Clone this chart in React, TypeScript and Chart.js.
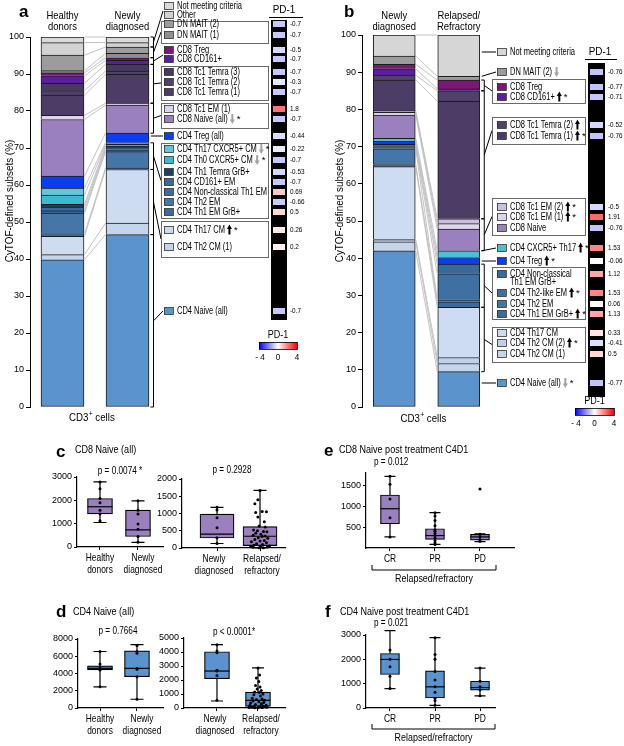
import React, { useEffect, useRef } from 'react';
import { Chart, registerables } from 'chart.js';

Chart.register(...registerables);

const FF = "'Liberation Sans', Arial, Helvetica, sans-serif";
Chart.defaults.font.family = FF;
Chart.defaults.color = '#000';

// ===== Panel a: healthy donors vs newly diagnosed (% of CD3+ cells, stacked bottom -> top) =====
const aBars = [['Healthy', 'donors'], ['Newly', 'diagnosed']];
const aSubsets = [
  'CD4 Naive (all)', 'CD4 Th2 CM (1)', 'CD4 Th17 CM', 'CD4 Th1 EM GrB+', 'CD4 Th2 EM',
  'CD4 Non-classical Th1 EM', 'CD4 CD161+ EM', 'CD4 Th1 Temra GrB+', 'CD4 Th0 CXCR5+ CM',
  'CD4 Th17 CXCR5+ CM', 'CD4 Treg (all)', 'CD8 Naive (all)', 'CD8 Tc1 EM (1)',
  'CD8 Tc1 Temra (1)', 'CD8 Tc1 Temra (2)', 'CD8 Tc1 Temra (3)', 'CD8 CD161+', 'CD8 Treg',
  'DN MAIT (1)', 'DN MAIT (2)', 'Other', 'Not meeting criteria',
];
const aHealthy = [39.8, 1.4, 4.9, 0.8, 5.5, 0.6, 1.0, 0.8, 2.5, 1.9, 3.2, 15.3, 1.1, 5.5, 1.2, 2.0, 2.0, 0.8, 0.6, 4.2, 3.4, 1.5];
const aNewly = [46.6, 3.1, 14.5, 0.4, 4.4, 0.5, 0.6, 0.4, 0.5, 0.4, 2.6, 7.6, 0.5, 7.8, 0.9, 1.8, 1.1, 0.7, 1.2, 1.7, 1.2, 1.5];
const aMarks = ['', '', 'up*', '', '', '', '', '', 'down*', 'down*', '', 'down*', '', '', '', '', '', '', '', '', '', ''];
const aPd1 = [-0.7, 0.2, 0.26, 0.5, -0.66, 0.69, -0.7, -0.53, -0.7, -0.22, -0.44, -0.7, 1.8, -0.7, -0.3, -0.7, -0.7, -0.5, -0.7, -0.7, null, null];

// ===== Panel b: newly diagnosed vs relapsed/refractory =====
const bBars = [['Newly', 'diagnosed'], ['Relapsed/', 'Refractory']];
const bSubsets = [
  'CD4 Naive (all)', 'CD4 Th2 CM (1)', 'CD4 Th2 CM (2)', 'CD4 Th17 CM', 'CD4 Th1 EM GrB+',
  'CD4 Th2 EM', 'CD4 Th2-like EM', 'CD4 Non-classical\nTh1 EM GrB+', 'CD4 Treg', 'CD4 CXCR5+ Th17',
  'CD8 Naive', 'CD8 Tc1 EM (1)', 'CD8 Tc1 EM (2)', 'CD8 Tc1 Temra (1)', 'CD8 Tc1 Temra (2)',
  'CD8 CD161+', 'CD8 Treg', 'DN MAIT (2)', 'Not meeting criteria',
];
const bNewly = [42.0, 2.4, 0.6, 19.6, 0.6, 4.2, 0.6, 0.6, 0.8, 0.8, 6.3, 0.7, 0.4, 8.3, 1.3, 1.7, 1.2, 2.2, 5.7];
const bRelapsed = [9.5, 2.2, 1.6, 13.5, 1.5, 0.5, 7.0, 2.6, 1.8, 1.8, 5.8, 1.5, 1.3, 31.6, 2.8, 0.5, 2.4, 1.0, 11.1];
const bMarks = ['down*', '', 'up*', '', 'up*', '', 'up*', '', 'up*', 'up*', '', 'up*', 'up*', 'up*', 'up', 'up*', '', 'down', ''];
const bPd1 = [-0.77, 0.5, -0.41, 0.33, 1.13, 0.06, 1.53, 1.12, -0.06, 1.53, -0.76, 1.91, -0.5, -0.76, -0.52, -0.71, -0.77, -0.76, null];

// ===== Panels c-f: box plots (cells) =====
const cLeftGroups = [['Healthy', 'donors'], ['Newly', 'diagnosed']];
const cLeftMin = [1050, 200];
const cLeftQ1 = [1415, 450];
const cLeftMed = [1725, 735];
const cLeftQ3 = [2080, 1585];
const cLeftMax = [2790, 1980];
const cLeftPts = [[2790, 2500, 2080, 1900, 1580, 1415, 1130], [1980, 1580, 1410, 990, 760, 450, 200]];

const cRightGroups = [['Newly', 'diagnosed'], ['Relapsed/', 'refractory']];
const cRightMin = [130, 0];
const cRightQ1 = [290, 70];
const cRightMed = [400, 340];
const cRightQ3 = [980, 620];
const cRightMax = [1180, 1670];
const cRightPts = [
  [1180, 1100, 880, 590, 300, 130],
  [1670, 1400, 1280, 1060, 1050, 1030, 900, 760, 640, 610, 520, 500, 480, 470, 430, 400, 370, 350,
    330, 300, 280, 250, 220, 200, 180, 150, 120, 100, 80, 60, 50, 40, 30, 20, 10, 5],
];
const cRightJitter = [
  [0, 0, 0, 0, 0, 0],
  [0, -0.05, -0.12, 0.05, 0.15, -0.1, -0.05, 0.1, -0.02, 0.12, -0.15, -0.06, 0.08, 0.16, -0.1, 0.02, -0.16, 0.12,
    0.05, -0.04, 0.18, -0.12, 0.1, 0.0, -0.2, 0.15, -0.08, 0.06, -0.14, 0.22, 0.02, -0.22, 0.17, -0.17, 0.08, -0.02],
];

const dLeftGroups = [['Healthy', 'donors'], ['Newly', 'diagnosed']];
const dLeftMin = [2460, 1015];
const dLeftQ1 = [4410, 3630];
const dLeftMed = [4600, 4600];
const dLeftQ3 = [4880, 6630];
const dLeftMax = [6550, 7340];
const dLeftPts = [[6550, 5100, 4650, 4550, 4450, 4400, 2460], [7260, 6550, 6360, 4600, 4490, 3630, 1015]];

const dRightGroups = [['Newly', 'diagnosed'], ['Relapsed/', 'refractory']];
const dRightMin = [500, 0];
const dRightQ1 = [2095, 120];
const dRightMed = [2640, 550];
const dRightQ3 = [4020, 1140];
const dRightMax = [4520, 2860];
const dRightPts = [
  [4520, 4070, 3950, 2690, 2640, 2330, 550],
  [2860, 2350, 2150, 1900, 1600, 1500, 1350, 1250, 1150, 1100, 1000, 950, 850, 700, 650, 600, 550, 500,
    450, 400, 350, 300, 250, 200, 180, 150, 120, 100, 80, 60, 50, 40, 30, 20, 10],
];
const dRightJitter = [
  [0, 0, 0, 0, 0, 0, 0],
  [0, 0.04, -0.04, 0.02, -0.06, 0.05, -0.02, 0.08, -0.08, 0.03, 0.12, -0.1, 0.06, -0.14, 0.1, -0.04, 0.16, -0.12,
    0.02, 0.14, -0.18, 0.08, -0.06, 0.2, -0.2, 0.12, -0.1, 0.04, 0.18, -0.16, 0.22, -0.22, 0.1, -0.08, 0.0],
];

const eGroups = [['CR'], ['PR'], ['PD']];
const eMin = [265, 86, 150];
const eQ1 = [578, 203, 187];
const eMed = [937, 297, 265];
const eQ3 = [1265, 460, 328];
const eMax = [1710, 844, 340];
const ePts = [
  [1710, 1520, 1170, 720, 265],
  [844, 766, 656, 531, 438, 398, 344, 297, 242, 180, 125, 86],
  [1406, 328, 270, 200, 160],
];

const fGroups = [['CR'], ['PR'], ['PD']];
const fMin = [800, 110, 500];
const fQ1 = [1375, 410, 730];
const fMed = [1995, 870, 840];
const fQ3 = [2240, 1530, 1100];
const fMax = [3180, 2890, 1640];
const fPts = [
  [3180, 2380, 2000, 1700, 1300, 800],
  [2890, 2200, 2000, 1500, 1150, 870, 650, 400, 300, 110],
  [1640, 1100, 870, 750, 500],
];

// ===== styles =====
const aColors = ['#5b93cc', '#c3d6ec', '#cddcf0', '#3b6a9b', '#4676a8', '#3d6d9e', '#3a699b', '#1f3e64', '#3dbad0',
  '#62c8d8', '#0b3df2', '#9a80bf', '#ddd5eb', '#4b3d66', '#504169', '#473962', '#5a1f9f', '#7d1678', '#8e8e8e',
  '#9c9c9c', '#d2d2d2', '#dadada'];
const bColors = ['#5b93cc', '#c3d6ec', '#bfd2ea', '#cddcf0', '#3b6a9b', '#4676a8', '#3f70a2', '#3a699b', '#0b3df2',
  '#4cc0d2', '#9a80bf', '#ddd5eb', '#cbbfe0', '#4b3d66', '#504169', '#5a1f9f', '#7d1678', '#9c9c9c', '#d6d6d6'];
const PURPLE = '#9b80c0';
const BLUE = '#5b93cf';

// ===== drawing helpers =====
function txt(ctx: any, s: string, x: number, y: number, o: any = {}) {
  const size = o.size ?? 10;
  const sx = o.sx ?? 1;
  ctx.save();
  ctx.font = `${o.bold ? 'bold ' : ''}${size}px ${FF}`;
  ctx.fillStyle = o.color ?? '#000';
  ctx.textBaseline = 'middle';
  ctx.textAlign = 'left';
  const w = ctx.measureText(s).width * sx;
  let x0 = x;
  if (o.align === 'center') x0 = x - w / 2;
  else if (o.align === 'right') x0 = x - w;
  ctx.translate(x0, y);
  ctx.scale(sx, 1);
  ctx.fillText(s, 0, 0);
  ctx.restore();
  return w;
}

function upArrow(ctx: any, x: number, y: number) {
  ctx.save();
  ctx.fillStyle = '#000';
  ctx.beginPath();
  ctx.moveTo(x, y - 1);
  ctx.lineTo(x + 2.5, y - 5.5);
  ctx.lineTo(x + 5, y - 1);
  ctx.closePath();
  ctx.fill();
  ctx.fillRect(x + 1.5, y - 1.5, 2, 6);
  ctx.restore();
}

function downArrow(ctx: any, x: number, y: number) {
  ctx.save();
  ctx.fillStyle = '#a3a3a3';
  ctx.beginPath();
  ctx.moveTo(x, y + 0.5);
  ctx.lineTo(x + 2.5, y + 5);
  ctx.lineTo(x + 5, y + 0.5);
  ctx.closePath();
  ctx.fill();
  ctx.fillRect(x + 1.5, y - 5, 2, 6);
  ctx.restore();
}

function pdColor(v: number) {
  const t = Math.min(1, (Math.abs(v) / 4) * 1.25);
  const c = Math.round(255 * (1 - t));
  return v < 0 ? `rgb(${c},${c},255)` : `rgb(255,${c},${c})`;
}

function drawStack(chart: any, s: any) {
  const ctx = chart.ctx;
  const ys = chart.scales.y;
  const meta = chart.getDatasetMeta(0);
  const e1 = meta.data[0];
  const e2 = meta.data[1];
  const x1R = e1.x + e1.width / 2;
  const x2L = e2.x - e2.width / 2;
  const x2R = e2.x + e2.width / 2;
  const c1: number[] = [];
  const c2: number[] = [];
  let t1 = 0;
  let t2 = 0;
  s.v1.forEach((v: number, i: number) => { t1 += v; t2 += s.v2[i]; c1.push(t1); c2.push(t2); });

  ctx.save();
  // category labels above the bars
  [e1, e2].forEach((el: any, i: number) => {
    s.labels[i].forEach((ln: string, j: number) => {
      txt(ctx, ln, el.x, s.labelY[j], { size: 11, align: 'center', sx: 0.86 });
    });
  });
  // connectors between the two bars
  ctx.strokeStyle = '#bcbcbc';
  ctx.lineWidth = 0.9;
  for (let k = 0; k < c1.length; k++) {
    ctx.beginPath();
    ctx.moveTo(x1R + 0.5, ys.getPixelForValue(c1[k]));
    ctx.lineTo(x2L - 0.5, ys.getPixelForValue(c2[k]));
    ctx.stroke();
  }
  // brackets + frames
  s.groups.forEach((g: any) => {
    const top = ys.getPixelForValue(c2[g.to]);
    const bot = ys.getPixelForValue(g.from === 0 ? 0 : c2[g.from - 1]);
    const tx = g.frame ? s.frameX[0] : s.swX - 1;
    const ty = g.frame ? (g.frame[0] + g.frame[1]) / 2 : g.y;
    ctx.strokeStyle = '#000';
    ctx.lineWidth = 1;
    ctx.beginPath();
    if (g.type === 'bracket') {
      const bx = x2R + 4.5;
      ctx.moveTo(x2R + 1.5, top);
      ctx.lineTo(bx, top);
      ctx.lineTo(bx, bot);
      ctx.lineTo(x2R + 1.5, bot);
      ctx.moveTo(bx, (top + bot) / 2);
      ctx.lineTo(tx, ty);
    } else {
      const sy = Math.min(Math.max(ty, top), bot);
      ctx.moveTo(x2R + 2, sy);
      ctx.lineTo(tx, ty);
    }
    ctx.stroke();
    if (g.frame) {
      ctx.strokeStyle = '#6a6a6a';
      ctx.strokeRect(s.frameX[0] + 0.5, g.frame[0] + 0.5, s.frameX[1] - s.frameX[0], g.frame[1] - g.frame[0]);
    }
  });
  // legend rows
  s.subsets.forEach((name: string, i: number) => {
    const y = s.rowY[i];
    ctx.fillStyle = s.colors[i];
    ctx.fillRect(s.swX, y - 3.5, 9, 7);
    ctx.strokeStyle = '#333';
    ctx.lineWidth = 0.8;
    ctx.strokeRect(s.swX + 0.5, y - 3.5, 9, 7);
    const lines = name.split('\n');
    let w = 0;
    lines.forEach((ln, j) => {
      const ww = txt(ctx, ln, s.swX + 13, y + j * 8.5, { size: 10, sx: 0.75 });
      if (j === lines.length - 1) w = ww;
    });
    let x = s.swX + 13 + w + 2;
    const ly = y + (lines.length - 1) * 8.5;
    const m = s.marks[i];
    if (m.startsWith('up')) { upArrow(ctx, x, ly); x += 6; }
    else if (m.startsWith('down')) { downArrow(ctx, x, ly); x += 6; }
    if (m.endsWith('*')) txt(ctx, '*', x + 1, ly, { size: 9.5 });
  });
  // PD-1 strip
  const st = s.strip;
  ctx.fillStyle = '#000';
  ctx.fillRect(st.x, st.top, st.w, st.bottom - st.top);
  s.pd.forEach((v: number | null, i: number) => {
    if (v == null) return;
    const y = s.rowY[i];
    ctx.fillStyle = pdColor(v);
    ctx.fillRect(st.cellX, y - 3, st.cellW, 6);
    txt(ctx, String(v), st.valX, y, { size: 7.5, sx: 0.85 });
  });
  txt(ctx, 'PD-1', st.hx, st.hy, { size: 11, align: 'center', sx: 0.9 });
  ctx.strokeStyle = '#000';
  ctx.lineWidth = 1;
  ctx.beginPath();
  ctx.moveTo(st.ul[0], st.uy + 0.5);
  ctx.lineTo(st.ul[1], st.uy + 0.5);
  ctx.stroke();
  // colour bar
  const grad = ctx.createLinearGradient(st.cbx, 0, st.cbx + st.cbw, 0);
  grad.addColorStop(0, '#0000ff');
  grad.addColorStop(0.5, '#ffffff');
  grad.addColorStop(1, '#ff0000');
  ctx.fillStyle = grad;
  ctx.fillRect(st.cbx, st.cby, st.cbw, st.cbh);
  ctx.lineWidth = 0.8;
  ctx.strokeRect(st.cbx + 0.5, st.cby + 0.5, st.cbw, st.cbh);
  txt(ctx, 'PD-1', st.cbx + st.cbw / 2, st.cby - 7, { size: 10, align: 'center', sx: 0.9 });
  txt(ctx, '- 4', st.cbx + 1, st.cby + st.cbh + 9, { size: 9, align: 'center', sx: 0.9 });
  txt(ctx, '0', st.cbx + st.cbw / 2, st.cby + st.cbh + 9, { size: 9, align: 'center', sx: 0.9 });
  txt(ctx, '4', st.cbx + st.cbw, st.cby + st.cbh + 9, { size: 9, align: 'center', sx: 0.9 });
  // y title
  ctx.save();
  ctx.translate(s.yTitle[0], s.yTitle[1]);
  ctx.rotate(-Math.PI / 2);
  txt(ctx, 'CyTOF-defined subsets (%)', 0, 0, { size: 11, align: 'center', sx: 0.9 });
  ctx.restore();
  // panel letter
  txt(ctx, s.letter[0], s.letter[1], s.letter[2], { size: 17, bold: true });
  // CD3+ cells
  const cx = (e1.x + e2.x) / 2 - 4;
  const cy = s.cd3Y;
  const w1 = txt(ctx, 'CD3', cx - 22, cy, { size: 11, sx: 0.88 });
  txt(ctx, '+', cx - 22 + w1 + 0.5, cy - 4, { size: 7 });
  txt(ctx, 'cells', cx - 22 + w1 + 7, cy, { size: 11, sx: 0.88 });
  ctx.restore();
}

function makeStack(s: any) {
  return {
    type: 'bar',
    data: {
      labels: s.labels.map((l: string[]) => l.join(' ')),
      datasets: s.subsets.map((name: string, i: number) => ({
        label: name,
        data: [s.v1[i], s.v2[i]],
        backgroundColor: s.colors[i],
        borderColor: '#1c1c1c',
        borderWidth: { top: 1, left: 1, right: 1, bottom: i === 0 ? 1 : 0 },
        borderSkipped: false,
        barThickness: s.barW,
        stack: 'cd3',
      })),
    },
    options: {
      responsive: false,
      animation: false,
      layout: { padding: s.pad },
      plugins: { legend: { display: false }, tooltip: { enabled: false }, title: { display: false } },
      scales: {
        x: {
          position: 'top',
          stacked: true,
          grid: { display: false, drawTicks: false },
          border: { display: false },
          ticks: { display: false },
          afterFit: (sc: any) => { sc.height = s.xH; },
        },
        y: {
          stacked: true,
          min: 0,
          max: 100,
          ticks: { stepSize: 10, color: '#000', font: { size: 9, family: FF }, padding: 2, callback: (v: any) => String(v) },
          grid: { drawOnChartArea: false, drawTicks: true, tickLength: 4, color: '#000', lineWidth: 1 },
          border: { display: true, color: '#000', width: 1 },
          afterFit: (sc: any) => { sc.width = s.yW; },
        },
      },
    },
    plugins: [{ id: 'stackDecor', afterDatasetsDraw: (c: any) => drawStack(c, s) }],
  };
}

const stackA = {
  labels: aBars, subsets: aSubsets, v1: aHealthy, v2: aNewly, colors: aColors, marks: aMarks, pd: aPd1,
  rowY: [311, 247, 230, 212, 202, 192, 182, 172, 160, 149, 136, 119, 109, 92, 82, 72, 59, 50, 35, 24, 15, 6],
  groups: [
    { from: 0, to: 0, type: 'bracket', y: 311 },
    { from: 1, to: 2, type: 'bracket', frame: [221, 257] },
    { from: 3, to: 9, type: 'bracket', frame: [143, 218] },
    { from: 10, to: 10, type: 'line', y: 136 },
    { from: 11, to: 12, type: 'bracket', frame: [103, 128] },
    { from: 13, to: 15, type: 'bracket', frame: [66, 100] },
    { from: 16, to: 17, type: 'bracket', y: 55 },
    { from: 18, to: 19, type: 'bracket', frame: [21, 43] },
    { from: 20, to: 21, type: 'bracket', y: 11 },
  ],
  barW: 43, pad: { left: 0, right: 152, top: 0, bottom: 23 }, xH: 37, yW: 30,
  frameX: [161, 268], swX: 164, labelY: [16, 27],
  strip: { x: 271, w: 16, top: 20, bottom: 320, cellX: 273, cellW: 12, valX: 290, hx: 284, hy: 10, ul: [269, 303], uy: 17,
    cbx: 259, cby: 342, cbw: 38, cbh: 7 },
  yTitle: [10, 201], letter: ['a', 19, 12], cd3Y: 418,
};

const stackB = {
  labels: bBars, subsets: bSubsets, v1: bNewly, v2: bRelapsed, colors: bColors, marks: bMarks, pd: bPd1,
  rowY: [383, 354, 343, 333, 314, 304, 293, 274, 261, 248, 228, 217, 207, 136, 125, 97, 87, 72, 52],
  groups: [
    { from: 0, to: 0, type: 'line', y: 383 },
    { from: 1, to: 3, type: 'bracket', frame: [327, 362] },
    { from: 4, to: 7, type: 'bracket', frame: [267, 319] },
    { from: 8, to: 8, type: 'line', y: 261 },
    { from: 9, to: 9, type: 'line', y: 248 },
    { from: 10, to: 12, type: 'bracket', frame: [198, 235] },
    { from: 13, to: 14, type: 'bracket', frame: [117, 144] },
    { from: 15, to: 16, type: 'bracket', frame: [79, 103] },
    { from: 17, to: 17, type: 'line', y: 72 },
    { from: 18, to: 18, type: 'line', y: 52 },
  ],
  barW: 42, pad: { left: 20, right: 133, top: 0, bottom: 23 }, xH: 35, yW: 30,
  frameX: [180, 273], swX: 185, labelY: [16, 27],
  strip: { x: 276, w: 17, top: 63, bottom: 397, cellX: 278, cellW: 13, valX: 296, hx: 288, hy: 52, ul: [273, 305], uy: 59,
    cbx: 263, cby: 408, cbw: 39, cbh: 7 },
  yTitle: [28, 201], letter: ['b', 32, 12], cd3Y: 419,
};

const YW = 32;
const XH = 32;

function drawBox(chart: any, b: any, before: boolean) {
  const ctx = chart.ctx;
  const xs = chart.scales.x;
  const ys = chart.scales.y;
  ctx.save();
  ctx.strokeStyle = '#000';
  ctx.lineWidth = 1.2;
  if (before) {
    b.groups.forEach((_: any, i: number) => {
      const x = xs.getPixelForValue(i);
      const yMax = ys.getPixelForValue(b.max[i]);
      const yQ3 = ys.getPixelForValue(b.q3[i]);
      const yQ1 = ys.getPixelForValue(b.q1[i]);
      const yMin = ys.getPixelForValue(b.min[i]);
      ctx.beginPath();
      ctx.moveTo(x, yMax); ctx.lineTo(x, yQ3);
      ctx.moveTo(x, yQ1); ctx.lineTo(x, yMin);
      ctx.moveTo(x - b.capW / 2, yMax); ctx.lineTo(x + b.capW / 2, yMax);
      ctx.moveTo(x - b.capW / 2, yMin); ctx.lineTo(x + b.capW / 2, yMin);
      ctx.stroke();
    });
  } else {
    b.groups.forEach((lab: string[], i: number) => {
      const x = xs.getPixelForValue(i);
      const y = ys.getPixelForValue(b.med[i]);
      ctx.beginPath();
      ctx.moveTo(x - b.boxW / 2, y); ctx.lineTo(x + b.boxW / 2, y);
      ctx.stroke();
      const shift = lab.length > 1 ? (b.labShift ? b.labShift[i] : 0) : 0;
      lab.forEach((ln: string, j: number) => {
        txt(ctx, ln, x + shift, chart.chartArea.bottom + 11 + j * 12, { size: 10.5, align: 'center', sx: 0.8 });
      });
    });
    (b.texts || []).forEach((t: any) => {
      txt(ctx, t.t, t.x - b.cx, t.y - b.cy, { size: t.size ?? 10, bold: t.bold, align: t.align, sx: t.sx ?? (t.bold ? 1 : 0.82) });
    });
    if (b.bracket) {
      const br = b.bracket;
      ctx.lineWidth = 1;
      ctx.beginPath();
      ctx.moveTo(br.x1 - b.cx, br.y1 - b.cy);
      ctx.lineTo(br.x1 - b.cx, br.y2 - b.cy);
      ctx.lineTo(br.x2 - b.cx, br.y2 - b.cy);
      ctx.lineTo(br.x2 - b.cx, br.y1 - b.cy);
      ctx.stroke();
      txt(ctx, 'Relapsed/refractory', (br.x1 + br.x2) / 2 - b.cx, br.ly - b.cy, { size: 10.5, align: 'center', sx: 0.85 });
    }
  }
  ctx.restore();
}

function makeBox(b: any) {
  const pad = {
    left: b.area.l - b.cx - YW,
    right: b.cx + b.cw - b.area.r,
    top: b.area.t - b.cy,
    bottom: b.cy + b.ch - b.area.b - XH,
  };
  const pts: any[] = [];
  b.pts.forEach((arr: number[], i: number) =>
    arr.forEach((v, j) => pts.push({ x: i + ((b.jit && b.jit[i] && b.jit[i][j]) || 0), y: v })));
  return {
    type: 'bar',
    data: {
      datasets: [
        { type: 'scatter', data: pts, pointRadius: 1.5, backgroundColor: '#000', borderWidth: 0, clip: false, order: 0 },
        {
          type: 'bar',
          data: b.groups.map((_: any, i: number) => ({ x: i, y: [b.q1[i], b.q3[i]] })),
          backgroundColor: b.color, borderColor: '#000', borderWidth: 1.2, borderSkipped: false,
          barThickness: b.boxW, clip: false, order: 1,
        },
      ],
    },
    options: {
      responsive: false,
      animation: false,
      layout: { padding: pad },
      plugins: { legend: { display: false }, tooltip: { enabled: false } },
      scales: {
        x: {
          type: 'linear', min: b.xMin, max: b.xMax, offset: false,
          afterBuildTicks: (sc: any) => { sc.ticks = b.groups.map((_: any, i: number) => ({ value: i })); },
          ticks: { display: false },
          grid: { drawOnChartArea: false, tickLength: 3, color: '#000', offset: false },
          border: { color: '#000', width: 1.2 },
          afterFit: (sc: any) => { sc.height = XH; },
        },
        y: {
          min: b.yMin, max: b.yMax,
          afterBuildTicks: (sc: any) => { sc.ticks = b.yTicks.map((v: number) => ({ value: v })); },
          ticks: { font: { size: 9, family: FF }, color: '#000', padding: 2, callback: (v: any) => String(v) },
          grid: { drawOnChartArea: false, tickLength: 3, color: '#000' },
          border: { color: '#000', width: 1.2 },
          afterFit: (sc: any) => { sc.width = YW; },
        },
      },
    },
    plugins: [{
      id: 'boxDecor',
      beforeDatasetsDraw: (c: any) => drawBox(c, b, true),
      afterDatasetsDraw: (c: any) => drawBox(c, b, false),
    }],
  };
}

const boxes = [
  {
    cx: 0, cy: 440, cw: 170, ch: 150, area: { l: 77, r: 163, t: 477, b: 547 },
    groups: cLeftGroups, min: cLeftMin, q1: cLeftQ1, med: cLeftMed, q3: cLeftQ3, max: cLeftMax, pts: cLeftPts,
    labShift: [0, 5],
    color: PURPLE, boxW: 25, capW: 13, xMin: -0.605, xMax: 1.658, yMin: 0, yMax: 3000, yTicks: [0, 1000, 2000, 3000],
    texts: [
      { t: 'c', x: 56, y: 452, size: 17, bold: true },
      { t: 'CD8 Naive (all)', x: 75, y: 450, size: 11 },
      { t: 'p = 0.0074 *', x: 120, y: 471, align: 'center' },
    ],
  },
  {
    cx: 140, cy: 440, cw: 160, ch: 150, area: { l: 182, r: 285, t: 479, b: 548 },
    groups: cRightGroups, min: cRightMin, q1: cRightQ1, med: cRightMed, q3: cRightQ3, max: cRightMax, pts: cRightPts,
    jit: cRightJitter, labShift: [-3, 2],
    color: PURPLE, boxW: 34, capW: 13, xMin: -0.814, xMax: 1.581, yMin: 0, yMax: 2000, yTicks: [0, 500, 1000, 1500, 2000],
    texts: [{ t: 'p = 0.2928', x: 232, y: 470, align: 'center' }],
  },
  {
    cx: 0, cy: 600, cw: 170, ch: 146, area: { l: 78, r: 163, t: 639, b: 708 },
    groups: dLeftGroups, min: dLeftMin, q1: dLeftQ1, med: dLeftMed, q3: dLeftQ3, max: dLeftMax, pts: dLeftPts,
    labShift: [0, 5],
    color: BLUE, boxW: 25, capW: 13, xMin: -0.595, xMax: 1.703, yMin: 0, yMax: 8000, yTicks: [0, 2000, 4000, 6000, 8000],
    texts: [
      { t: 'd', x: 56, y: 612, size: 17, bold: true },
      { t: 'CD4 Naive (all)', x: 73, y: 612, size: 11 },
      { t: 'p = 0.7664', x: 118, y: 631, align: 'center' },
    ],
  },
  {
    cx: 140, cy: 600, cw: 160, ch: 146, area: { l: 184, r: 285, t: 638, b: 708 },
    groups: dRightGroups, min: dRightMin, q1: dRightQ1, med: dRightMed, q3: dRightQ3, max: dRightMax, pts: dRightPts,
    jit: dRightJitter, labShift: [-2, 3],
    color: BLUE, boxW: 25, capW: 12, xMin: -0.805, xMax: 1.659, yMin: 0, yMax: 5000, yTicks: [0, 1000, 2000, 3000, 4000, 5000],
    texts: [{ t: 'p < 0.0001*', x: 234, y: 632, align: 'center' }],
  },
  {
    cx: 312, cy: 440, cw: 248, ch: 150, area: { l: 366, r: 514, t: 473, b: 548 },
    groups: eGroups, min: eMin, q1: eQ1, med: eMed, q3: eQ3, max: eMax, pts: ePts,
    color: PURPLE, boxW: 19, capW: 11, xMin: -0.533, xMax: 2.756, yMin: 0, yMax: 1790, yTicks: [500, 1000, 1500],
    texts: [
      { t: 'e', x: 324, y: 451, size: 17, bold: true },
      { t: 'CD8 Naive post treatment C4D1', x: 339, y: 450, size: 11 },
      { t: 'p = 0.012', x: 374, y: 462 },
    ],
    bracket: { x1: 372, x2: 496, y1: 565, y2: 570, ly: 579 },
  },
  {
    cx: 312, cy: 600, cw: 248, ch: 146, area: { l: 366, r: 495, t: 635, b: 708 },
    groups: fGroups, min: fMin, q1: fQ1, med: fMed, q3: fQ3, max: fMax, pts: fPts,
    color: BLUE, boxW: 19, capW: 11, xMin: -0.533, xMax: 2.333, yMin: 0, yMax: 3000, yTicks: [0, 1000, 2000, 3000],
    texts: [
      { t: 'f', x: 325, y: 612, size: 17, bold: true },
      { t: 'CD4 Naive post treatment C4D1', x: 340, y: 612, size: 11 },
      { t: 'p = 0.021', x: 374, y: 623 },
    ],
    bracket: { x1: 372, x2: 495, y1: 724, y2: 729, ly: 738 },
  },
];

function ChartCanvas({ x, y, w, h, make }: any) {
  const ref = useRef<HTMLCanvasElement>(null);
  useEffect(() => {
    const chart = new Chart(ref.current as any, make());
    return () => chart.destroy();
  }, []);
  return (
    <canvas ref={ref} width={w} height={h}
      style={{ position: 'absolute', left: x, top: y, width: w, height: h }} />
  );
}

export default function App() {
  return (
    <div style={{ position: 'absolute', left: 0, top: 0, width: 624, height: 746, background: '#fff', overflow: 'hidden' }}>
      <ChartCanvas x={0} y={0} w={312} h={430} make={() => makeStack(stackA)} />
      <ChartCanvas x={312} y={0} w={312} h={430} make={() => makeStack(stackB)} />
      {boxes.map((b, i) => (
        <ChartCanvas key={i} x={b.cx} y={b.cy} w={b.cw} h={b.ch} make={() => makeBox(b)} />
      ))}
    </div>
  );
}
